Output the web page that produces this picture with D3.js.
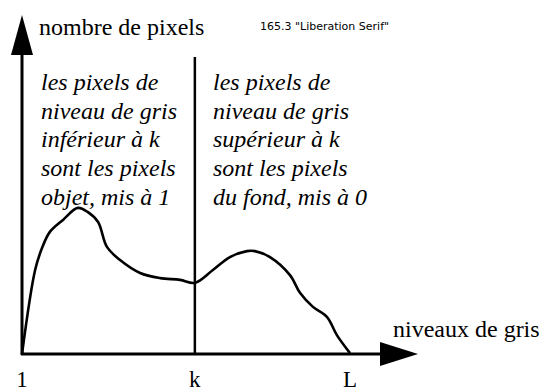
<!DOCTYPE html>
<html>
<head>
<meta charset="utf-8">
<script src="https://cdn.jsdelivr.net/npm/d3@7"></script>
<style>
  html, body { margin: 0; padding: 0; background: #fff; }
</style>
</head>
<body>
<svg id="chart" width="554" height="391"></svg>
<script>
// Histogram of grey levels (schematic), threshold k splits object / background
const grayLevels = [0, 4, 6.1, 8.5, 12.5, 17, 20.1, 23.2, 25.9, 29.9, 36, 42.1, 48.2, 52.7, 58.2, 63.4, 68.6, 71, 75.6, 81.7, 84.8, 88.7, 93, 96, 100];
const pixelCounts = [0, 28, 35.3, 40.7, 44.7, 48.7, 47.3, 44, 35.7, 31.3, 27, 25.3, 24.7, 23.7, 28, 32.3, 34.3, 34.3, 32.3, 26.3, 20.3, 15.7, 12.3, 6.3, 0.3];
const tickValues = [0, 52.7, 100];
const tickLabels = ["1", "k", "L"];
const threshold = 52.7;
const yAxisTitle = "nombre de pixels";
const xAxisTitle = "niveaux de gris";
const leftNote = ["les pixels de", "niveau de gris", "inférieur à k", "sont les pixels", "objet, mis à 1"];
const rightNote = ["les pixels de", "niveau de gris", "supérieur à k", "sont les pixels", "du fond, mis à 0"];

const fontFamily = "Liberation Serif";
const svg = d3.select("#chart");
const x0 = 22, y0 = 354;
const x = d3.scaleLinear().domain([0, 100]).range([x0, 350]);
const y = d3.scaleLinear().domain([0, 100]).range([y0, 54]);

// Axis titles
const t1 = svg.append("text").attr("x", 39).attr("y", 35)
  .attr("font-family", fontFamily).attr("font-size", 24).text(yAxisTitle);
svg.append("text").attr("x", 393).attr("y", 337)
  .attr("font-family", fontFamily).attr("font-size", 24).text(xAxisTitle);

// Notes on either side of the threshold
function note(lines, xPos) {
  lines.forEach((t, i) => {
    svg.append("text").attr("x", xPos).attr("y", 90 + i * 28.7)
      .attr("font-family", fontFamily).attr("font-size", 24).attr("font-style", "italic")
      .text(t);
  });
}
note(leftNote, 41);
note(rightNote, 213);

// Tick labels
tickValues.forEach((v, i) => {
  svg.append("text")
    .attr("x", x(v)).attr("y", 387)
    .attr("text-anchor", "middle")
    .attr("font-family", fontFamily).attr("font-size", 23)
    .text(tickLabels[i]);
});

// Axes with arrowheads
svg.append("line").attr("x1", x0).attr("y1", y0 + 1).attr("x2", x0).attr("y2", 50)
  .attr("stroke", "#000").attr("stroke-width", 3);
svg.append("path").attr("d", `M${x0},15 L${x0 - 11},55 L${x0 + 11},55 Z`).attr("fill", "#000");

svg.append("line").attr("x1", x0 - 1).attr("y1", y0).attr("x2", 385).attr("y2", y0)
  .attr("stroke", "#000").attr("stroke-width", 3);
svg.append("path").attr("d", `M418,${y0} L380,${y0 - 12} L380,${y0 + 12} Z`).attr("fill", "#000");

// Threshold line at k
svg.append("line").attr("x1", x(threshold)).attr("y1", 57).attr("x2", x(threshold)).attr("y2", y0)
  .attr("stroke", "#000").attr("stroke-width", 2.5);

// Histogram curve
const line = d3.line()
  .x((d, i) => x(grayLevels[i]))
  .y((d, i) => y(pixelCounts[i]))
  .curve(d3.curveCatmullRom.alpha(0.5));
svg.append("path").datum(grayLevels).attr("d", line)
  .attr("fill", "none").attr("stroke", "#000").attr("stroke-width", 2.6)
  .attr("stroke-linejoin", "round");

// font diagnostics
svg.append("text").attr("x", 260).attr("y", 30).attr("font-size", 11).attr("font-family", "DejaVu Sans")
  .text(t1.node().getComputedTextLength().toFixed(1) + " " + getComputedStyle(t1.node()).fontFamily);
</script>
</body>
</html>
